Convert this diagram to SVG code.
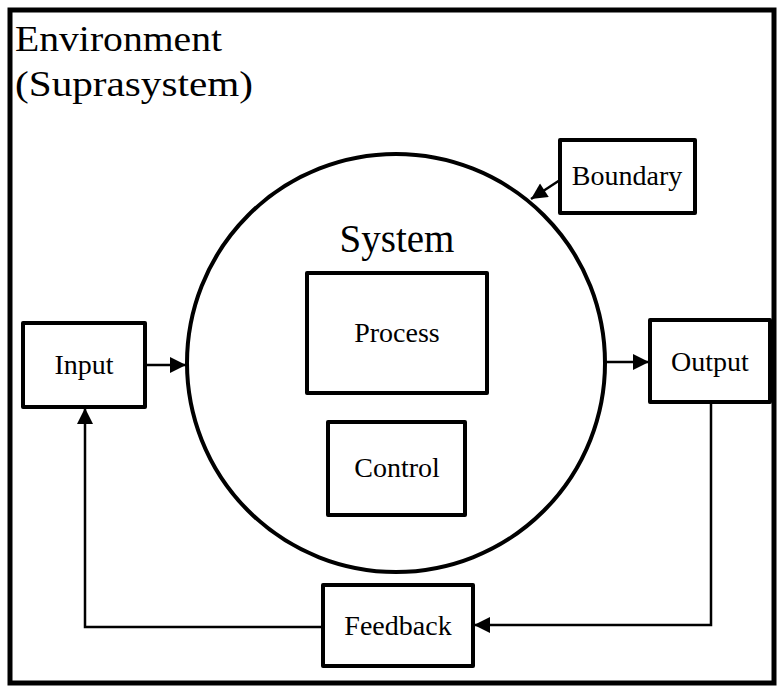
<svg xmlns="http://www.w3.org/2000/svg" width="779" height="687" viewBox="0 0 779 687">
<style>
.box{fill:#fff;stroke:#000;stroke-width:4;stroke-linejoin:round}
.lbl{font-family:"Liberation Serif","Times New Roman",serif;font-size:28px;fill:#000;text-anchor:middle}
.big{font-family:"Liberation Serif","Times New Roman",serif;fill:#000}
.conn{fill:none;stroke:#000;stroke-width:2.5}
</style>
<defs>
<marker id="ah" viewBox="0 0 10 10" refX="10" refY="5" markerWidth="7" markerHeight="6" markerUnits="userSpaceOnUse" orient="auto"><path d="M0,0L10,5L0,10z" fill="#000"/></marker>
<marker id="ahL" viewBox="0 0 10 10" refX="10" refY="5" markerWidth="20" markerHeight="16" markerUnits="userSpaceOnUse" orient="auto"><path d="M0,0L10,5L0,10z" fill="#000"/></marker>
</defs>
<rect width="779" height="687" fill="#fff"/>
<g id="environment">
<rect x="10" y="10" width="764" height="673" fill="none" stroke="#000" stroke-width="5"/>
<text class="big" x="15" y="51" font-size="36" textLength="207" lengthAdjust="spacingAndGlyphs">Environment</text>
<text class="big" x="15" y="96" font-size="36" textLength="238" lengthAdjust="spacingAndGlyphs">(Suprasystem)</text>
</g>
<g id="system">
<circle cx="396" cy="363" r="209" fill="none" stroke="#000" stroke-width="4"/>
<text class="big" x="397" y="252" font-size="39" text-anchor="middle">System</text>
</g>
<g id="process">
<rect class="box" x="307" y="273" width="180" height="120"/>
<text class="lbl" x="397" y="342">Process</text>
</g>
<g id="control">
<rect class="box" x="328" y="422" width="137" height="93"/>
<text class="lbl" x="397" y="477">Control</text>
</g>
<g id="input">
<rect class="box" x="23" y="323" width="122" height="84"/>
<text class="lbl" x="84" y="374">Input</text>
</g>
<g id="output">
<rect class="box" x="650" y="320" width="120" height="82"/>
<text class="lbl" x="710" y="371">Output</text>
</g>
<g id="boundary">
<rect class="box" x="560" y="140" width="135" height="73"/>
<text class="lbl" x="627" y="185">Boundary</text>
</g>
<g id="feedback">
<rect class="box" x="323" y="585" width="150" height="81"/>
<text class="lbl" x="398" y="635">Feedback</text>
</g>
<g id="connectors">
<line class="conn" x1="145" y1="365" x2="186" y2="365" marker-end="url(#ahL)"/>
<line class="conn" x1="606" y1="362" x2="649" y2="362" marker-end="url(#ahL)"/>
<line class="conn" x1="560" y1="180" x2="531" y2="199" stroke-width="2" marker-end="url(#ahL)"/>
<polyline class="conn" points="711,402 711,625 474,625" marker-end="url(#ahL)"/>
<polyline class="conn" points="323,627 85,627 85,408" marker-end="url(#ahL)"/>
</g>
</svg>
